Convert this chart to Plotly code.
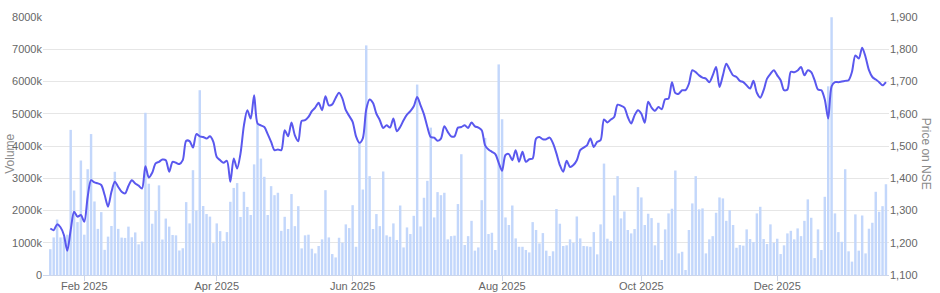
import plotly.graph_objects as go
import pandas as pd

# Daily volume (thousands of shares)
volume_k = [
    800, 1165, 1720, 1165, 1170, 1250, 4500, 2620, 1640, 3550,
    1250, 3280, 4370, 2280, 1430, 1950, 780, 1190, 1520, 3200,
    1430, 1160, 1150, 1500, 1170, 1320, 950, 1040, 5030, 2830,
    1590, 1990, 2780, 1100, 1750, 1500, 1240, 1230, 760, 830,
    2260, 1600, 3250, 2000, 5730, 2140, 1890, 1810, 990, 1600,
    1360, 1050, 1330, 2270, 2700, 2850, 1800, 2580, 2110, 1860,
    3430,
    4700, 3610, 3045, 1860, 2755, 2475, 2550, 1370, 1805, 1425,
    2510, 1515, 2135, 825, 1230, 1250, 815, 670, 900, 1105,
    2630, 1165, 650, 545, 1155, 1000, 1570, 1455, 2165, 875,
    4095, 2650, 7120, 3065, 1425, 1890, 1515, 3210, 1230, 1185,
    1600, 1085, 2155, 855, 1475, 1270, 1835, 5905, 1505, 2395,
    2920, 4570, 1785, 2570, 2475, 2550, 1105, 1205, 1220, 2200,
    3745, 930, 1205,
    1680, 755, 855, 2320, 4250, 1270, 1310, 775, 6530, 4830,
    1785, 1550, 2155, 1135, 875, 875, 775, 700, 1640, 1395,
    980, 1300, 755, 590, 735, 2045, 1590, 900, 920, 1105,
    1000, 1815, 1135, 900, 890, 875, 1330, 640, 1570, 3455,
    1125, 1050, 2465, 3065, 1755, 1970, 1395, 1290, 1425, 2725,
    2405, 1550, 1900, 1765, 920, 1620, 465, 1415, 1910, 2055,
    3240,
    670, 720, 155, 1395, 2220, 3065, 2035, 2065, 670, 1105,
    1205, 1930, 2405, 2375, 1680, 2010, 1550, 845, 930, 910,
    1415, 1115, 1020, 1910, 2115, 1115, 960, 1570, 1000, 1125,
    650, 920, 1290, 1370, 1105, 1445, 1205, 1680, 2345, 1775,
    525, 1415, 775, 2425, 5850, 7990, 1910, 1330, 1030, 3280,
    735, 415, 1880, 755, 1845, 670, 1435, 1620, 2580, 1960,
    2135, 2815,
]

# Closing price on NSE
price = [
    1244, 1239, 1257, 1248, 1224, 1175, 1239, 1296, 1281, 1286,
    1265, 1342, 1394, 1387, 1384, 1379, 1348, 1312, 1358, 1389,
    1373, 1358, 1353, 1376, 1394, 1384, 1377, 1368, 1437, 1402,
    1417, 1446, 1451, 1458, 1456, 1420, 1451, 1448, 1444, 1456,
    1516, 1515, 1495, 1537, 1530, 1528, 1523, 1530, 1513, 1466,
    1456, 1448, 1454, 1389, 1461, 1430, 1477, 1564, 1611, 1585,
    1657,
    1570, 1564, 1559, 1537, 1513, 1487, 1489, 1487, 1549, 1530,
    1573, 1533, 1515, 1578, 1580, 1590, 1608, 1619, 1634, 1611,
    1654, 1626, 1629, 1649, 1665, 1647, 1611, 1593, 1575, 1530,
    1510, 1524, 1613, 1644, 1633, 1600, 1580, 1556, 1564, 1557,
    1585, 1546, 1559, 1580, 1597, 1608, 1623, 1652, 1626, 1598,
    1559, 1528, 1526, 1516, 1523, 1561, 1544, 1530, 1530, 1557,
    1559, 1564, 1556,
    1573, 1561, 1557, 1549, 1502, 1489, 1482, 1475, 1448, 1423,
    1472, 1475, 1456, 1487, 1451, 1482, 1451, 1459, 1461, 1523,
    1528, 1521, 1521, 1526, 1508, 1477, 1441, 1420, 1454, 1435,
    1441, 1456, 1487, 1495, 1502, 1523, 1497, 1513, 1518, 1582,
    1573, 1582, 1590, 1628, 1625, 1619, 1590, 1570, 1595, 1611,
    1600, 1572, 1637, 1619, 1609, 1621, 1614, 1645, 1647, 1698,
    1664,
    1662, 1673, 1673, 1693, 1735, 1729, 1719, 1712, 1709, 1698,
    1719, 1745, 1683, 1719, 1755, 1737, 1719, 1714, 1702, 1698,
    1688, 1678, 1702, 1665, 1650, 1673, 1709, 1724, 1735, 1719,
    1704, 1673, 1675, 1730, 1729, 1734, 1745, 1719, 1735, 1729,
    1704, 1675, 1673, 1644, 1585, 1685, 1698, 1698, 1700, 1702,
    1704, 1730, 1781, 1771, 1805, 1776, 1735, 1714, 1706, 1698,
    1688, 1698,
]

# Trading calendar (weekdays minus exchange holidays)
holidays = ["2025-02-26", "2025-03-14", "2025-04-10", "2025-04-14", "2025-04-18",
            "2025-05-01", "2025-08-15", "2025-08-27", "2025-10-02", "2025-10-22",
            "2025-11-05", "2025-12-25"]
dates = [d.strftime("%Y-%m-%d") for d in pd.bdate_range("2025-01-20", "2026-01-15")
         if d.strftime("%Y-%m-%d") not in holidays]
n = min(len(dates), len(volume_k), len(price))
dates = dates[:n]
volume_k = volume_k[:n]
price = price[:n]

tick_months = ["2025-02", "2025-04", "2025-06", "2025-08", "2025-10", "2025-12"]
tick_labels = ["Feb 2025", "Apr 2025", "Jun 2025", "Aug 2025", "Oct 2025", "Dec 2025"]
tick_dates = [next(d for d in dates if d.startswith(m)) for m in tick_months]

vol_ticks = [0, 1000, 2000, 3000, 4000, 5000, 6000, 7000, 8000]
vol_tick_text = ["0"] + [f"{v}k" for v in vol_ticks[1:]]
price_ticks = [1100, 1200, 1300, 1400, 1500, 1600, 1700, 1800, 1900]

FONT = "Liberation Sans, Arial, sans-serif"

fig = go.Figure()
fig.add_trace(go.Bar(
    x=dates, y=volume_k, name="Volume", yaxis="y",
    marker=dict(color="#c3d7fb", line=dict(width=0)),
))
fig.add_trace(go.Scatter(
    x=dates, y=price, name="Price", yaxis="y2", mode="lines",
    line=dict(color="#5a58ee", width=2, shape="spline", smoothing=0.8),
))

fig.update_layout(
    width=940, height=293,
    margin=dict(l=43, r=51, t=17, b=18, autoexpand=False),
    paper_bgcolor="white", plot_bgcolor="white",
    showlegend=False, bargap=0.28,
    font=dict(family=FONT, size=11, color="#666666"),
    xaxis=dict(
        type="category", range=[-2.15, n - 1 + 0.9], automargin=False,
        tickmode="array", tickvals=tick_dates, ticktext=tick_labels,
        showgrid=False, showline=True, linecolor="#ccd6eb", linewidth=1,
        ticks="outside", ticklen=5, tickcolor="#ccd6eb", ticklabelstandoff=-4,
        tickfont=dict(family=FONT, size=11, color="#666666"),
        zeroline=False,
    ),
    yaxis=dict(
        range=[0, 8000], tickmode="array", tickvals=vol_ticks, ticktext=vol_tick_text,
        automargin=False,
        showgrid=True, gridcolor="#e6e6e6", gridwidth=1, zeroline=False,
        showline=False, ticks="", tickfont=dict(family=FONT, size=11, color="#666666"),
    ),
    yaxis2=dict(
        range=[1100, 1900], overlaying="y", side="right", automargin=False,
        tickmode="array", tickvals=price_ticks, tickformat=",d",
        showgrid=False, zeroline=False, showline=False, ticks="",
        tickfont=dict(family=FONT, size=11, color="#666666"),
    ),
    annotations=[
        dict(text="Volume", xref="paper", yref="paper", x=0, y=0.47,
             xanchor="center", yanchor="middle", textangle=-90, showarrow=False,
             font=dict(family=FONT, size=12, color="#8a8a8a"), xshift=-33),
        dict(text="Price on NSE", xref="paper", yref="paper", x=1.0, y=0.47,
             xanchor="center", yanchor="middle", textangle=90, showarrow=False,
             font=dict(family=FONT, size=12, color="#8a8a8a"), xshift=37),
    ],
)

fig.write_html("out.html")
